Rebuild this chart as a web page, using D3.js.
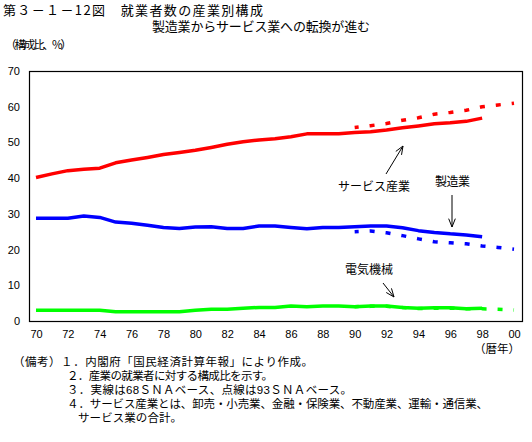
<!DOCTYPE html>
<html>
<head>
<meta charset="utf-8">
<script src="https://cdn.jsdelivr.net/npm/d3@7"></script>
<style>
body{margin:0;background:#fff;}
svg{display:block;}
</style>
</head>
<body>
<svg id="c" width="532" height="442"></svg>
<script>
// ---- data ----
const years68 = [1970,1971,1972,1973,1974,1975,1976,1977,1978,1979,1980,1981,1982,1983,1984,1985,1986,1987,1988,1989,1990,1991,1992,1993,1994,1995,1996,1997,1998];
const years93 = [1990,1991,1992,1993,1994,1995,1996,1997,1998,1999,2000];
const service68 = [40.2,41.2,42.1,42.5,42.8,44.3,45.1,45.8,46.6,47.2,47.8,48.6,49.5,50.2,50.7,51.0,51.6,52.4,52.4,52.4,52.8,53.0,53.5,54.1,54.6,55.2,55.5,55.9,56.8];
const service93 = [54.2,54.7,55.3,56.2,56.9,57.9,58.4,59.0,60.0,60.5,61.0];
const manuf68 = [28.8,28.8,28.8,29.4,29.0,27.7,27.4,26.8,26.2,25.9,26.3,26.4,25.9,25.9,26.6,26.6,26.2,25.8,26.2,26.2,26.4,26.6,26.6,26.1,25.3,24.8,24.4,24.1,23.6];
const manuf93 = [25.0,25.2,24.7,23.9,23.0,22.2,21.9,21.6,21.0,20.6,20.1];
const elec68 = [3.0,3.0,3.0,3.0,3.0,2.6,2.6,2.6,2.6,2.6,3.0,3.3,3.3,3.55,3.8,3.8,4.2,4.0,4.2,4.2,4.0,4.2,4.2,3.8,3.55,3.7,3.7,3.45,3.55];
const elec93 = [4.0,4.1,4.1,3.8,3.5,3.6,3.6,3.4,3.4,3.3,3.1];
const yTicks = [0,10,20,30,40,50,60,70];
const xTickYears = [1970,1972,1974,1976,1978,1980,1982,1984,1986,1988,1990,1992,1994,1996,1998,2000];
const xTickLabels = ["70","72","74","76","78","80","82","84","86","88","90","92","94","96","98","00"];
const titleText = "第３－１－12図　就業者数の産業別構成";
const subtitleText = "製造業からサービス業への転換が進む";
const yUnit = "（構成比、%）";
const xUnit = "（暦年）";
const notes = [
  "（備考）１．内閣府「国民経済計算年報」により作成。",
  "２．産業の就業者に対する構成比を示す。",
  "３．実線は68ＳＮＡベース、点線は93ＳＮＡベース。",
  "４．サービス産業とは、卸売・小売業、金融・保険業、不動産業、運輸・通信業、",
  "サービス業の合計。"
];

// ---- layout ----
const svg = d3.select("#c");
const frame = {left:29, top:71, right:522, bottom:321};
const x = d3.scaleLinear().domain([1970,2000]).range([36,514]);
const y = d3.scaleLinear().domain([0,70]).range([321,71]);
const jp = "'Noto Sans CJK JP', sans-serif";
const jpTight = "'Liberation Sans', 'Noto Sans CJK JP', sans-serif";
const num = "'Liberation Sans', Arial, sans-serif";

// title
svg.append("text").attr("x",3).attr("y",15).attr("font-family",jp).attr("font-size",13)
  .attr("textLength",260).attr("lengthAdjust","spacing").text(titleText);
svg.append("text").attr("x",152).attr("y",31).attr("font-family",jp).attr("font-size",13)
  .attr("textLength",218).attr("lengthAdjust","spacing").text(subtitleText);
svg.append("text").attr("x",5).attr("y",49).attr("font-family",jp).attr("font-size",11.5)
  .attr("textLength",67).attr("lengthAdjust","spacing").text(yUnit);

// frame
svg.append("rect").attr("x",frame.left+0.5).attr("y",frame.top+0.5)
  .attr("width",frame.right-frame.left).attr("height",frame.bottom-frame.top)
  .attr("fill","none").attr("stroke","#000").attr("stroke-width",1.2);

// y axis labels
const yAxis = d3.axisLeft(y).tickValues(yTicks).tickSize(0).tickPadding(0);
const gy = svg.append("g").attr("transform","translate(20,0)").call(yAxis);
gy.select(".domain").remove();
gy.selectAll("text").attr("font-family",num).attr("font-size",11).attr("fill","#000");

// x axis labels
const xAxis = d3.axisBottom(x).tickValues(xTickYears).tickSize(0).tickPadding(0)
  .tickFormat((d,i)=>xTickLabels[i]);
const gx = svg.append("g").attr("transform","translate(0,330)").call(xAxis);
gx.select(".domain").remove();
gx.selectAll("text").attr("font-family",num).attr("font-size",11).attr("fill","#000");

svg.append("text").attr("x",474).attr("y",353).attr("font-family",jp).attr("font-size",11.5)
  .attr("textLength",46).attr("lengthAdjust","spacing").text(xUnit);

// lines
const line = d3.line().x(d=>x(d[0])).y(d=>y(d[1]));
function draw(years, vals, color, dashed){
  const p = svg.append("path").datum(years.map((yr,i)=>[yr,vals[i]]))
    .attr("d",line).attr("fill","none").attr("stroke",color)
    .attr("stroke-width",3.5).attr("stroke-linejoin","round");
  if(dashed) p.attr("stroke-dasharray","5 11").attr("stroke-dashoffset",1);
}
draw(years93, service93, "#ff0000", true);
draw(years93, manuf93, "#0000ff", true);
draw(years93, elec93, "#00ff00", true);
draw(years68, service68, "#ff0000", false);
draw(years68, manuf68, "#0000ff", false);
draw(years68, elec68, "#00ff00", false);

// annotations
function label(t, x0, y0, len){
  svg.append("text").attr("x",x0).attr("y",y0).attr("font-family",jp).attr("font-size",12)
    .attr("textLength",len).attr("lengthAdjust","spacing").text(t);
}
label("サービス産業",338,191,72);
label("製造業",435,186,35);
label("電気機械",345,274,48);

function arrow(x1,y1,x2,y2){
  const a = Math.atan2(y2-y1,x2-x1), h=9, s=0.38;
  svg.append("line").attr("x1",x1).attr("y1",y1).attr("x2",x2).attr("y2",y2)
    .attr("stroke","#000").attr("stroke-width",1);
  svg.append("path").attr("d",
    `M${x2-h*Math.cos(a-s)},${y2-h*Math.sin(a-s)}L${x2},${y2}L${x2-h*Math.cos(a+s)},${y2-h*Math.sin(a+s)}`)
    .attr("fill","none").attr("stroke","#000").attr("stroke-width",1);
}
arrow(386,174,403,146);
arrow(452,195,452,227);
arrow(383,283,394,297);

// notes
const noteX = [13,67,67,67,78];
const noteY = [366,380,394,408,422];
const noteLen = [300,206,285,421,104];
notes.forEach((t,i)=>{
  svg.append("text").attr("x",noteX[i]).attr("y",noteY[i]).attr("font-family",jpTight)
    .attr("font-size",11.5).attr("textLength",noteLen[i]).attr("lengthAdjust","spacing").text(t);
});
</script>
</body>
</html>
